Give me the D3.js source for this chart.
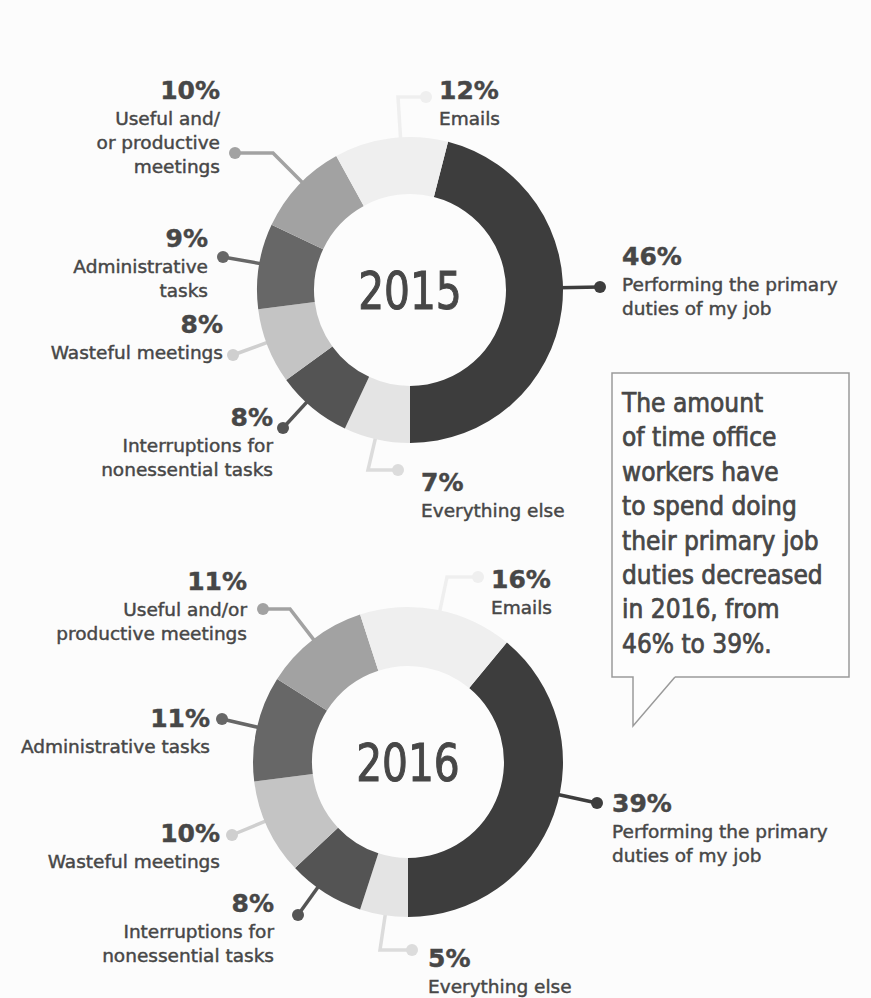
<!DOCTYPE html>
<html>
<head>
<meta charset="utf-8">
<script src="https://cdn.jsdelivr.net/npm/d3@7"></script>
<style>
  body { margin: 0; background: #fcfcfc; }
  text { font-family: "DejaVu Sans", sans-serif; fill: #474747; stroke: #474747; stroke-width: 0.45px; }
</style>
</head>
<body>
<script>
// categories, in clockwise order starting from the primary-duties slice
const categories = ["Primary duties", "Everything else", "Interruptions", "Wasteful meetings",
                    "Administrative tasks", "Useful meetings", "Emails"];
const values2015 = [46, 7, 8, 8, 9, 10, 12];
const values2016 = [39, 5, 8, 10, 11, 11, 16];

const labels2015 = [
  ["Performing the primary", "duties of my job"],
  ["Everything else"],
  ["Interruptions for", "nonessential tasks"],
  ["Wasteful meetings"],
  ["Administrative", "tasks"],
  ["Useful and/", "or productive", "meetings"],
  ["Emails"]
];
const labels2016 = [
  ["Performing the primary", "duties of my job"],
  ["Everything else"],
  ["Interruptions for", "nonessential tasks"],
  ["Wasteful meetings"],
  ["Administrative tasks"],
  ["Useful and/or", "productive meetings"],
  ["Emails"]
];
const calloutLines = ["The amount", "of time office", "workers have", "to spend doing",
                      "their primary job", "duties decreased", "in 2016, from", "46% to 39%."];

// slice fills and connector colours
const sliceColors = ["#3d3d3d", "#e4e4e4", "#545454", "#c4c4c4", "#676767", "#a2a2a2", "#efefef"];
const lineColors  = ["#3d3d3d", "#dcdcdc", "#545454", "#cfcfcf", "#676767", "#a2a2a2", "#efefef"];

// label layout: percent baseline at (x,y), anchor, dot, optional elbow
const layout2015 = [
  {x: 622, y: 265, anchor: "start", dot: [600, 287]},
  {x: 421, y: 491, anchor: "start", dot: [398, 470], elbow: [368, 470]},
  {x: 273, y: 426, anchor: "end",   dot: [283, 428]},
  {x: 223, y: 333, anchor: "end",   dot: [233, 355]},
  {x: 208, y: 247, anchor: "end",   dot: [223, 257]},
  {x: 220, y: 99,  anchor: "end",   dot: [235, 153], elbow: [273, 153]},
  {x: 439, y: 99,  anchor: "start", dot: [426, 97],  elbow: [398, 97]}
];
const layout2016 = [
  {x: 612, y: 812, anchor: "start", dot: [597, 803]},
  {x: 428, y: 967, anchor: "start", dot: [412, 950], elbow: [380, 950]},
  {x: 274, y: 912, anchor: "end",   dot: [298, 915]},
  {x: 220, y: 842, anchor: "end",   dot: [232, 835]},
  {x: 210, y: 727, anchor: "end",   dot: [222, 719]},
  {x: 247, y: 590, anchor: "end",   dot: [263, 609], elbow: [290, 609]},
  {x: 491, y: 588, anchor: "start", dot: [478, 577], elbow: [447, 577]}
];

const width = 871, height = 998;
const svg = d3.select("body").append("svg")
    .attr("width", width)
    .attr("height", height);

function donut(values, labels, layout, year, cx, cy, rOuter, rInner) {
  const total = d3.sum(values);
  // primary slice ends at six o'clock
  const start = Math.PI - values[0] / total * 2 * Math.PI;
  const pie = d3.pie().sort(null).startAngle(start).endAngle(start + 2 * Math.PI);
  const arc = d3.arc().innerRadius(rInner).outerRadius(rOuter);
  const arcs = pie(values);

  const g = svg.append("g");

  // connectors: from the ring edge toward elbow/dot
  layout.forEach((L, i) => {
    const target = L.elbow || L.dot;
    const dx = target[0] - cx, dy = target[1] - cy;
    const len = Math.sqrt(dx * dx + dy * dy);
    const p0 = [cx + dx / len * (rOuter - 4), cy + dy / len * (rOuter - 4)];
    const pts = L.elbow ? [p0, L.elbow, L.dot] : [p0, L.dot];
    g.append("path")
      .attr("d", d3.line()(pts))
      .attr("fill", "none")
      .attr("stroke", lineColors[i])
      .attr("stroke-width", 3.5);
    g.append("circle")
      .attr("cx", L.dot[0]).attr("cy", L.dot[1])
      .attr("r", 6)
      .attr("fill", lineColors[i]);
  });

  g.selectAll("path.slice")
    .data(arcs)
    .join("path")
    .attr("class", "slice")
    .attr("transform", `translate(${cx},${cy})`)
    .attr("d", arc)
    .attr("fill", (d, i) => sliceColors[i]);

  // year in the hole, squeezed a little like the original face
  g.append("text")
    .attr("transform", `translate(${cx},${cy + 19}) scale(0.87,1)`)
    .attr("text-anchor", "middle")
    .style("font-family", "'DejaVu Sans Condensed', 'DejaVu Sans', sans-serif")
    .style("font-size", "52px")
    .style("stroke-width", "1px")
    .text(year);

  // labels
  layout.forEach((L, i) => {
    const t = g.append("g");
    t.append("text")
      .attr("x", L.x).attr("y", L.y)
      .attr("text-anchor", L.anchor)
      .style("font-weight", "bold")
      .style("font-size", "25px")
      .text(values[i] + "%");
    labels[i].forEach((line, j) => {
      t.append("text")
        .attr("x", L.x).attr("y", L.y + 26 + j * 24)
        .attr("text-anchor", L.anchor)
        .style("font-size", "18.5px")
        .text(line);
    });
  });
}

donut(values2015, labels2015, layout2015, "2015", 410, 290, 153, 96);
donut(values2016, labels2016, layout2016, "2016", 408, 762, 155, 96);

// callout box with speech tail
const box = {x0: 612, y0: 373, x1: 849, y1: 677};
const tail = [[633, box.y1], [633, 726], [675, box.y1]];
svg.append("path")
  .attr("d", d3.line()([[tail[2][0], box.y1], [box.x1, box.y1], [box.x1, box.y0], [box.x0, box.y0],
                        [box.x0, box.y1], tail[0], tail[1], tail[2]]))
  .attr("fill", "#fdfdfd")
  .attr("stroke", "#9a9a9a")
  .attr("stroke-width", 1.5);

svg.append("g").selectAll("text")
  .data(calloutLines)
  .join("text")
  .attr("x", 622)
  .attr("y", (d, i) => 412 + i * 34.4)
  .style("font-family", "'DejaVu Sans Condensed', 'DejaVu Sans', sans-serif")
  .style("font-size", "26px")
  .style("stroke-width", "0.7px")
  .text(d => d);
</script>
</body>
</html>
